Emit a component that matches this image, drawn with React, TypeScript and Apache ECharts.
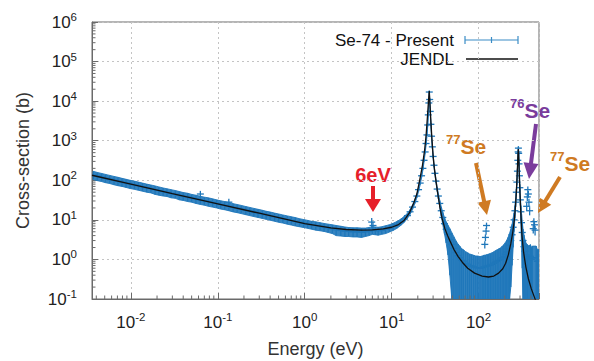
import React, { useEffect, useRef } from 'react';
import * as echarts from 'echarts';

// ---------------- data ----------------
const X_MIN = 0.00357;
const X_MAX = 496;
const Y_MIN = 0.1;
const Y_MAX = 1e6;

const xTickExponents = [-2, -1, 0, 1, 2];
const yTickExponents = [-1, 0, 1, 2, 3, 4, 5, 6];

// JENDL evaluated cross-section [E (eV)], [sigma (b)]
const jendlEnergy = [
  0.00357, 0.01, 0.03, 0.1, 0.3, 1, 2, 3, 4.5, 6, 8, 10, 12, 14, 16, 18, 19.5, 21, 22.5, 24,
  25, 26, 26.7, 27.1, 27.5, 28.2, 29, 30, 31, 32.5, 34, 36, 38, 41, 44, 47, 52, 58, 65, 75,
  90, 110, 130, 150, 170, 190, 205, 220, 235, 248, 258, 266, 273, 279, 284, 287, 290, 294, 300, 307,
  316, 330, 350, 375, 405, 440, 470,
];
const jendlXS = [
  134, 80, 46, 25.5, 14.7, 8.0, 6.3, 5.7, 5.5, 5.6, 5.9, 6.5, 7.6, 9.8, 15, 27, 45, 100, 220, 600,
  1500, 5000, 12000, 18000, 10000, 3500, 1200, 420, 200, 90, 45, 20, 11, 6, 4, 2.9, 1.8, 1.2, 0.85, 0.6,
  0.45, 0.38, 0.36, 0.38, 0.45, 0.58, 0.8, 1.3, 2.5, 5, 10, 22, 55, 160, 450, 620, 400, 150, 45, 14,
  4, 1.5, 0.65, 0.32, 0.18, 0.11, 0.075,
];

// Present measurement: [E (eV), sigma (b), uncertainty (b)]
const thermalPoints = [
  [0.0037, 136, 32], [0.0041, 128, 30], [0.0046, 121, 28], [0.0051, 114, 27], [0.0057, 108, 25],
  [0.0064, 101, 24], [0.0071, 96, 23], [0.0079, 91, 21], [0.0088, 86, 20], [0.0098, 81, 19],
  [0.011, 77, 18], [0.0122, 73, 17], [0.0136, 69, 16], [0.0152, 65, 15], [0.017, 62, 14],
  [0.019, 58, 14], [0.021, 55, 13], [0.0235, 52, 12], [0.026, 50, 11], [0.029, 47, 11],
  [0.0325, 45, 10], [0.036, 42, 10], [0.04, 40, 9], [0.045, 38, 9], [0.05, 36, 8],
  [0.056, 34, 8], [0.063, 32, 7.5], [0.07, 30.5, 7], [0.078, 29, 7], [0.087, 27.5, 6.5],
  [0.097, 26, 6], [0.108, 24.5, 5.8], [0.12, 23.5, 5.5], [0.134, 22.2, 5.2], [0.15, 20.8, 4.9],
  [0.167, 19.8, 4.6], [0.186, 18.8, 4.4], [0.21, 17.6, 4.1], [0.233, 16.7, 3.9], [0.26, 15.8, 3.7],
  [0.29, 15, 3.5], [0.325, 14.2, 3.3], [0.36, 13.4, 3.1], [0.4, 12.8, 3], [0.45, 12, 2.8],
  [0.5, 11.4, 2.7], [0.56, 10.8, 2.5], [0.63, 10.2, 2.4], [0.7, 9.7, 2.3], [0.78, 9.2, 2.2],
  [0.87, 8.7, 2], [0.97, 8.3, 1.9], [1.08, 7.9, 1.8], [1.2, 7.5, 1.7], [1.34, 7.2, 1.7],
  [1.5, 6.9, 1.6], [1.67, 6.6, 1.5], [1.86, 6.3, 1.5], [2.08, 6.0, 1.5], [2.3, 5.6, 1.6],
  [2.6, 5.4, 1.5], [2.9, 5.2, 1.4], [3.2, 5.1, 1.3], [3.6, 5.0, 1.3], [4.0, 5.0, 1.3],
  [4.5, 4.9, 1.3], [5.0, 5.0, 1.2], [5.5, 5.2, 1.2], [6.0, 5.5, 1.2], [6.5, 5.4, 1.2],
  [7.0, 5.3, 1.2], [7.7, 5.5, 1.2], [8.5, 5.8, 1.3], [9.4, 6.2, 1.3], [10.4, 6.8, 1.4],
  [11.5, 7.6, 1.5], [12.7, 8.8, 1.6], [14, 10.5, 1.8],
];
const outlierPoints = [
  [0.063, 45, 9], [0.134, 28, 6], [5.9, 8.8, 2.4], [6.1, 7.2, 1.8],
];
const peak27Points = [
  [15.2, 12.8, 1.8], [16.3, 16, 2.2], [17.4, 21, 2.6], [18.5, 29, 3.2], [19.5, 40, 4],
  [20.4, 58, 6], [21.3, 85, 8], [22.1, 130, 12], [22.9, 200, 18], [23.6, 320, 28],
  [24.3, 520, 45], [24.9, 850, 70], [25.5, 1400, 110], [26, 2500, 200], [26.4, 4500, 350],
  [26.8, 9000, 700], [27.1, 17000, 1400], [27.4, 11000, 900], [27.8, 5500, 450], [28.3, 2600, 220],
  [28.8, 1300, 110], [29.4, 700, 60], [30, 400, 35], [30.7, 240, 22], [31.5, 150, 14],
  [32.4, 95, 10], [33.4, 60, 7], [34.5, 40, 6], [35.8, 26, 5], [37.2, 17, 4.5],
  [38.8, 11.5, 4], [40.5, 8, 3.5], [42.4, 5.8, 3.2], [44.5, 4.3, 3], [46.8, 3.2, 2.8],
  [49.3, 2.4, 2.3],
];
const valleyPoints = [
  [52, 1.9, 1.85], [55, 1.5, 1.45], [58, 1.25, 1.2], [61, 1.1, 1.05], [64, 0.95, 0.9],
  [67, 0.9, 0.86], [71, 0.8, 0.77], [75, 0.75, 0.72], [79, 0.7, 0.67], [83, 0.68, 0.65],
  [88, 0.65, 0.62], [93, 0.62, 0.6], [98, 0.62, 0.6], [104, 0.6, 0.58], [110, 0.62, 0.6],
  [115, 0.65, 0.62], [120, 0.66, 0.63], [126, 0.68, 0.65], [131, 0.7, 0.67], [137, 0.72, 0.7],
  [143, 0.75, 0.72], [150, 0.8, 0.77], [157, 0.85, 0.82], [164, 0.9, 0.86], [171, 0.95, 0.9],
  [179, 1.0, 0.96], [187, 1.1, 1.05], [195, 1.2, 1.15], [203, 1.35, 1.3], [211, 1.55, 1.5],
  [219, 1.85, 1.8], [227, 2.3, 2.2], [235, 3.0, 2.8], [243, 4.2, 3.5], [250, 6.5, 4.5],
];
const se77LowPoints = [
  [118, 2.4, 0.5], [120, 3.6, 0.7], [122, 5.2, 1.0], [123.5, 7.2, 1.3],
];
const peak287Points = [
  [256, 10, 5], [262, 17, 6], [267, 28, 7], [272, 50, 10], [276, 90, 15],
  [280, 170, 25], [283, 320, 40], [285.5, 520, 60], [287.5, 650, 70], [289.5, 480, 55],
  [292, 260, 35], [295, 130, 22], [298.5, 65, 14], [302.5, 32, 9], [307, 16, 7],
  [312, 8.5, 5.5], [318, 4.8, 4.2], [325, 3, 2.9], [333, 2.1, 2.05], [342, 1.6, 1.55],
  [352, 1.3, 1.27], [365, 1.2, 1.17], [380, 1.1, 1.07], [395, 1.2, 1.17], [405, 1.0, 0.97],
  [415, 1.1, 1.07], [460, 1.1, 1.07], [475, 0.9, 0.88], [490, 0.9, 0.88],
];
const se76Points = [
  [358, 22, 5], [364, 38, 8], [369, 58, 12], [374, 45, 9], [380, 28, 6], [387, 17, 4],
];
const se77HighPoints = [
  [426, 6, 1.5], [433, 9, 2], [440, 7.5, 1.8], [447, 5.5, 1.5],
];

// ---------------- styling ----------------
const FONT = '"Liberation Sans", Arial, Helvetica, sans-serif';
const BLUE = '#1f77ba';
const AXIS = '#6a6a6a';
const RED = '#e6202a';
const ORANGE = '#cf7a22';
const PURPLE = '#7a3c9c';

function isDecade(v: number) {
  const l = Math.log10(v);
  return Math.abs(l - Math.round(l)) < 1e-6;
}

function makeFormatter(exps: number[]) {
  return (v: number) => {
    if (!isDecade(v)) return '';
    const e = Math.round(Math.log10(v));
    if (exps.indexOf(e) < 0) return '';
    return `{b|10}{s|${e}}`;
  };
}

const labelRich = {
  b: { fontSize: 17, lineHeight: 22, color: '#222', fontFamily: FONT },
  s: { fontSize: 11.5, lineHeight: 11, verticalAlign: 'top', color: '#222', fontFamily: FONT },
};

function arrow(start: number[], tip: number[], color: string, headLen = 12, headHalf = 7, width = 4) {
  const dx = tip[0] - start[0];
  const dy = tip[1] - start[1];
  const len = Math.sqrt(dx * dx + dy * dy);
  const ux = dx / len, uy = dy / len;
  const nx = -uy, ny = ux;
  const bx = tip[0] - ux * headLen, by = tip[1] - uy * headLen;
  return {
    type: 'group',
    children: [
      { type: 'line', shape: { x1: start[0], y1: start[1], x2: bx + ux * 2, y2: by + uy * 2 }, style: { stroke: color, lineWidth: width } },
      { type: 'polygon', shape: { points: [[tip[0], tip[1]], [bx + nx * headHalf, by + ny * headHalf], [bx - nx * headHalf, by - ny * headHalf]] }, style: { fill: color } },
    ],
  };
}

function isoLabel(x: number, y: number, mass: string, color: string) {
  return {
    type: 'text',
    x, y,
    style: {
      text: `{s|${mass}}{b|Se}`,
      rich: {
        s: { fontSize: 13, fontWeight: 'bold', fill: color, verticalAlign: 'top', lineHeight: 13, fontFamily: FONT },
        b: { fontSize: 21, fontWeight: 'bold', fill: color, lineHeight: 26, fontFamily: FONT },
      },
      textAlign: 'center', textVerticalAlign: 'middle', align: 'center', verticalAlign: 'middle',
    },
  };
}

export default function App() {
  const ref = useRef<HTMLDivElement>(null);

  useEffect(() => {
    if (!ref.current) return;
    const chart = echarts.init(ref.current, undefined, { renderer: 'svg' });

    const markerPoints = [
      ...thermalPoints, ...outlierPoints, ...peak27Points, ...valleyPoints,
      ...se77LowPoints, ...peak287Points, ...se76Points, ...se77HighPoints,
    ];
    const bandPoints = [...thermalPoints, ...peak27Points, ...valleyPoints, ...peak287Points];
    const jendlData = jendlEnergy.map((e, i) => [e, jendlXS[i]]);

    const xMinor: number[][] = [];
    for (let k = -3; k <= 2; k++) for (let m = 2; m <= 9; m++) {
      const v = m * Math.pow(10, k);
      if (v > X_MIN && v < X_MAX) xMinor.push([v, Y_MIN]);
    }
    const yMinor: number[][] = [];
    for (let k = -1; k <= 5; k++) for (let m = 2; m <= 9; m++) {
      yMinor.push([X_MIN, m * Math.pow(10, k)]);
    }

    const option: any = {
      animation: false,
      backgroundColor: '#fff',
      textStyle: { fontFamily: FONT },
      grid: {
        left: 92, right: 55, top: 22, bottom: 62,
        show: true, borderColor: AXIS, borderWidth: 1, backgroundColor: 'transparent',
        outerBoundsMode: 'none',
      },
      xAxis: {
        type: 'log', logBase: 10, min: X_MIN, max: X_MAX,
        name: 'Energy (eV)', nameLocation: 'middle', nameGap: 41,
        nameTextStyle: { fontSize: 18, color: '#333', fontFamily: FONT },
        axisLine: { show: true, lineStyle: { color: AXIS, width: 1 } },
        axisTick: { show: true, inside: true, length: 6, lineStyle: { color: AXIS } },
        axisLabel: { formatter: makeFormatter(xTickExponents), rich: labelRich, margin: 12 },
        splitLine: { show: true, lineStyle: { color: '#c4c4c4', type: [2, 3], width: 1 } },
      },
      yAxis: {
        type: 'log', logBase: 10, min: Y_MIN, max: Y_MAX,
        name: 'Cross-section (b)', nameLocation: 'middle', nameGap: 60,
        nameTextStyle: { fontSize: 18, color: '#333', fontFamily: FONT },
        axisLine: { show: true, lineStyle: { color: AXIS, width: 1 } },
        axisTick: { show: true, inside: true, length: 6, lineStyle: { color: AXIS } },
        axisLabel: { formatter: makeFormatter(yTickExponents), rich: labelRich, margin: 15 },
        splitLine: { show: true, lineStyle: { color: '#c4c4c4', type: [2, 3], width: 1 } },
      },
      series: [
        {
          type: 'custom', name: 'band', data: [[1, 1]], clip: true, silent: true, z: 2,
          renderItem: (params: any, api: any) => {
            if (params.dataIndex !== 0) return null;
            const lower = bandPoints.map((p) => api.coord([p[0], Math.max(p[1] - p[2], Y_MIN * 0.8)]));
            const upper = bandPoints.map((p) => api.coord([p[0], p[1] + p[2]])).reverse();
            return {
              type: 'polygon',
              shape: { points: lower.concat(upper) },
              style: { fill: BLUE, opacity: 0.9, stroke: BLUE, lineWidth: 1 },
            };
          },
        },
        {
          type: 'custom', name: 'Se-74 - Present', data: markerPoints, clip: true, z: 3,
          encode: { x: 0, y: 1 },
          renderItem: (params: any, api: any) => {
            const e = api.value(0), s = api.value(1), err = api.value(2);
            const c = api.coord([e, s]);
            const lo = api.coord([e, Math.max(s - err, Y_MIN * 0.8)]);
            const hi = api.coord([e, s + err]);
            return {
              type: 'group',
              children: [
                { type: 'line', shape: { x1: c[0], y1: lo[1], x2: c[0], y2: hi[1] }, style: { stroke: BLUE, lineWidth: 1.3 } },
                { type: 'line', shape: { x1: c[0] - 3.5, y1: c[1], x2: c[0] + 3.5, y2: c[1] }, style: { stroke: BLUE, lineWidth: 1.3 } },
              ],
            };
          },
        },
        {
          type: 'line', name: 'JENDL', data: jendlData, showSymbol: false, symbol: 'none',
          lineStyle: { color: '#111', width: 1.3 }, z: 4, clip: true,
        },
        {
          type: 'custom', name: 'xMinorTicks', data: xMinor, clip: false, silent: true, z: 5,
          renderItem: (params: any, api: any) => {
            const c = api.coord([api.value(0), api.value(1)]);
            return { type: 'line', shape: { x1: c[0], y1: c[1], x2: c[0], y2: c[1] - 3.5 }, style: { stroke: AXIS, lineWidth: 1 } };
          },
        },
        {
          type: 'custom', name: 'yMinorTicks', data: yMinor, clip: false, silent: true, z: 5,
          renderItem: (params: any, api: any) => {
            const c = api.coord([api.value(0), api.value(1)]);
            return { type: 'line', shape: { x1: c[0], y1: c[1], x2: c[0] + 3.5, y2: c[1] }, style: { stroke: AXIS, lineWidth: 1 } };
          },
        },
      ],
      graphic: [
        // legend
        { type: 'text', x: 454, y: 40, style: { text: 'Se-74 - Present', fontSize: 17, fontFamily: FONT, fill: '#111', textAlign: 'right', textVerticalAlign: 'middle', align: 'right', verticalAlign: 'middle' } },
        { type: 'text', x: 454, y: 59, style: { text: 'JENDL', fontSize: 17, fontFamily: FONT, fill: '#111', textAlign: 'right', textVerticalAlign: 'middle', align: 'right', verticalAlign: 'middle' } },
        { type: 'line', shape: { x1: 465, y1: 40, x2: 518, y2: 40 }, style: { stroke: '#3a8cc6', lineWidth: 1.2 } },
        { type: 'line', shape: { x1: 465, y1: 36, x2: 465, y2: 44 }, style: { stroke: '#3a8cc6', lineWidth: 1.2 } },
        { type: 'line', shape: { x1: 518, y1: 36, x2: 518, y2: 44 }, style: { stroke: '#3a8cc6', lineWidth: 1.2 } },
        { type: 'line', shape: { x1: 491.5, y1: 37, x2: 491.5, y2: 43 }, style: { stroke: '#3a8cc6', lineWidth: 1.2 } },
        { type: 'line', shape: { x1: 466, y1: 59, x2: 518, y2: 59 }, style: { stroke: '#111', lineWidth: 1.3 } },
        // annotations
        { type: 'text', x: 373, y: 175, style: { text: '6eV', fontSize: 20, fontWeight: 'bold', fontFamily: FONT, fill: RED, textAlign: 'center', textVerticalAlign: 'middle', align: 'center', verticalAlign: 'middle' } },
        arrow([373, 186], [373, 212], RED, 13, 8, 4),
        isoLabel(466, 146, '77', ORANGE),
        arrow([476, 163], [487, 215], ORANGE, 14, 7, 4),
        isoLabel(530, 110, '76', PURPLE),
        arrow([536, 124], [529, 179], PURPLE, 16, 7.5, 4),
        isoLabel(570, 163, '77', ORANGE),
        arrow([560, 177], [538, 213], ORANGE, 14, 7, 4),
      ],
    };

    chart.setOption(option);
    return () => chart.dispose();
  }, []);

  return (
    <div
      ref={ref}
      style={{ position: 'absolute', left: 0, top: 0, width: 594, height: 361, background: '#fff' }}
    />
  );
}
